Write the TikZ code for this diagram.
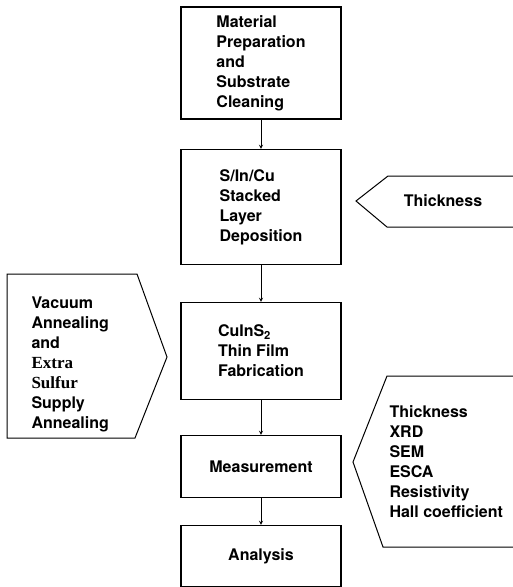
\documentclass[tikz,border=0pt]{standalone}
\usepackage{fontspec}
\setmainfont{TeX Gyre Heros}
\newfontfamily\serifbf{Liberation Serif}
\usetikzlibrary{arrows,positioning}
\tikzstyle{stepBox} = [rectangle, minimum width=160pt, text centered, align=left, draw=black, line width=1.1pt, font=\fontsize{16}{20}\selectfont\bfseries]
\tikzstyle{tagText} = [align=left, font=\fontsize{16}{20}\selectfont\bfseries]
\tikzstyle{tagShape} = [draw=black, line width=1pt, line join=miter]
\tikzstyle{arrow} = [line width=0.9pt,->,>=stealth]

\begin{document}
\begin{tikzpicture}[x=1pt,y=-1pt,node distance=144pt]
    \useasboundingbox (0,0) rectangle (513,587);
    \node (prep) [stepBox, minimum height=112pt] at (261,63) {Material\\Preparation\\and\\Substrate\\Cleaning};
    \node (depo) [stepBox, minimum height=115pt, below of=prep] {S/In/Cu\\Stacked\\Layer\\Deposition};
    \node (fab) [stepBox, minimum height=97pt, below of=depo] {CuInS\textsubscript{2}\\Thin Film\\Fabrication};
    \node (meas) [stepBox, minimum height=62pt, below of=fab, yshift=28.5pt] {Measurement};
    \node (anal) [stepBox, minimum height=61pt, below of=meas, yshift=54.5pt] {Analysis};
    
    % side tags
    \draw [tagShape] (513,176) -- (388,176) -- (356,201) -- (387,227) -- (513,227);
    \node (thick) [tagText] at (443,201) {Thickness};
    
    \draw [tagShape] (7,274) -- (137,274) -- (167,357) -- (135,438) -- (7,438) -- cycle;
    \node (anneal) [tagText, anchor=west] at (28,364) {Vacuum\\Annealing\\and\\{\serifbf\fontsize{17}{20}\selectfont Extra}\\{\serifbf\fontsize{17}{20}\selectfont Sulfur}\\Supply\\Annealing};
    
    \draw [tagShape] (513,376) -- (387,376) -- (353,462) -- (383,547) -- (513,547);
    \node (methods) [tagText, anchor=west] at (386,462) {Thickness\\XRD\\SEM\\ESCA\\Resistivity\\Hall coefficient};
    
    \draw [arrow] (prep) -- (depo);
    \draw [arrow] (depo) -- (fab);
    \draw [arrow] (fab) -- (meas);
    \draw [arrow] (meas) -- (anal);
    
\end{tikzpicture}
\end{document}
